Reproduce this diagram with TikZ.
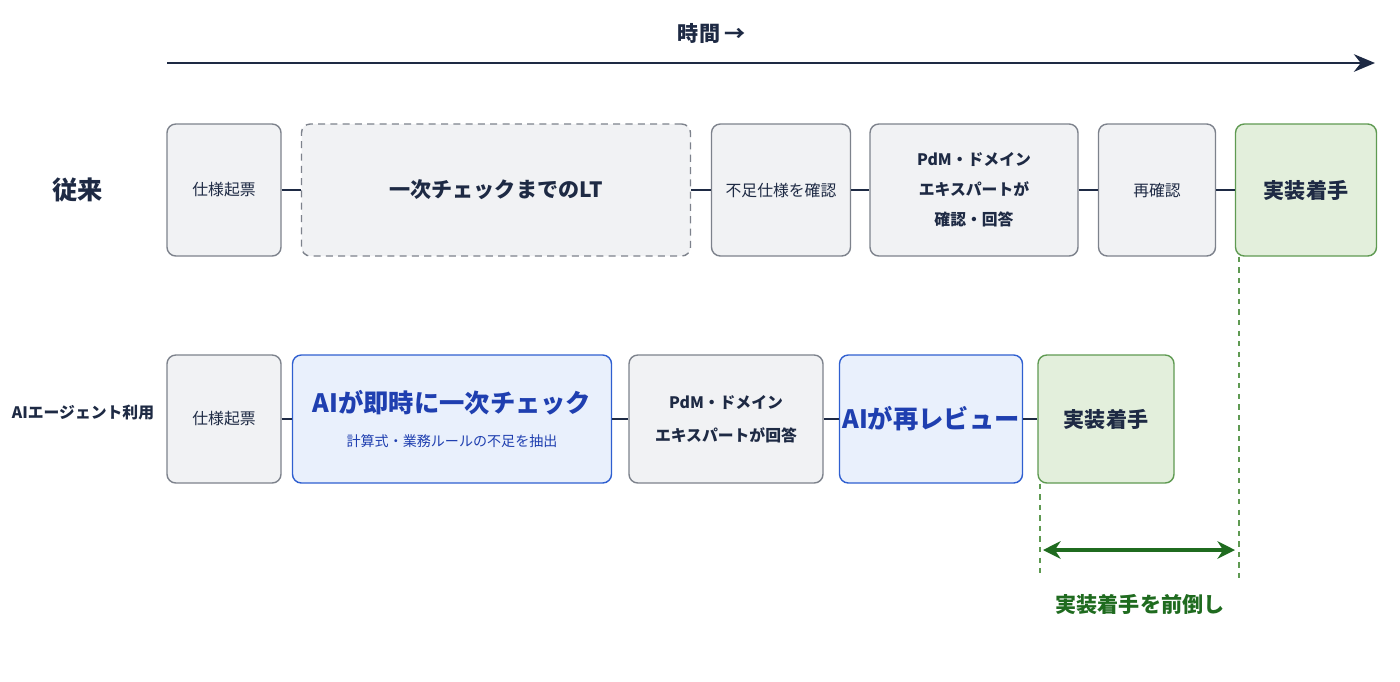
\documentclass[tikz,border=0pt]{standalone}
\usepackage{fontspec}
\setmainfont{Noto Sans CJK JP}
\usetikzlibrary{arrows.meta}
\definecolor{navy}{HTML}{1E2A44}
\definecolor{boxgray}{HTML}{F1F2F4}
\definecolor{edgegray}{HTML}{7D828C}
\definecolor{blueedge}{HTML}{2F5FD0}
\definecolor{bluefill}{HTML}{E9F0FC}
\definecolor{bluetext}{HTML}{1F3FB0}
\definecolor{greenedge}{HTML}{5F9A52}
\definecolor{greenfill}{HTML}{E3EFDC}
\definecolor{darkgreen}{HTML}{1F6B1F}
\begin{document}
\begin{tikzpicture}[x=0.02cm,y=-0.02cm,
    box/.style={draw=edgegray,fill=boxgray,rounded corners=5pt,line width=0.8pt,
                align=center,font=\small,text=navy,inner sep=0pt},
    sz/.style 2 args={minimum width=#1*0.02cm,minimum height=#2*0.02cm},
    dbox/.style={box,dashed,dash pattern=on 4pt off 3pt},
    bbox/.style={box,draw=blueedge,fill=bluefill,text=bluetext},
    gbox/.style={box,draw=greenedge,fill=greenfill},
    link/.style={navy,line width=1.2pt}]
  \useasboundingbox (0,0) rectangle (1400,681);

  % time axis
  \node[font=\bfseries\large,text=navy] (time) at (712,33) {時間 →};
  \coordinate (t0) at (167,63);
  \coordinate (t1) at (1375,63);
  \draw[navy,line width=1.5pt,-{Stealth[length=12pt,width=10pt]}] (t0) -- (t1);

  % row labels
  \node[font=\bfseries\Large,text=navy] (lab1) at (78,190) {従来};
  \node[font=\small\bfseries,text=navy] (lab2) at (83,413) {AIエージェント利用};

  % conventional flow
  \node[box,sz={114}{132}] (a1) at (224,190) {仕様起票};
  \node[dbox,sz={389}{132},font=\large\bfseries] (a2) at (496,190) {一次チェックまでのLT};
  \node[box,sz={139}{132}] (a3) at (781,190) {不足仕様を確認};
  \node[box,sz={208}{132},font=\small\bfseries] (a4) at (974,190)
    {PdM・ドメイン\\[6pt]エキスパートが\\[6pt]確認・回答};
  \node[box,sz={117}{132}] (a5) at (1157,190) {再確認};
  \node[gbox,sz={141}{132},font=\large\bfseries] (a6) at (1306,190) {実装着手};
  \foreach \p/\q in {a1/a2,a2/a3,a3/a4,a4/a5,a5/a6}
    \draw[link] (\p) -- (\q);

  % agent flow
  \node[box,sz={114}{128}] (b1) at (224,419) {仕様起票};
  \node[bbox,sz={319}{128}] (b2) at (452,419)
    {{\Large\bfseries AIが即時に一次チェック}\\[8pt]{\footnotesize 計算式・業務ルールの不足を抽出}};
  \node[box,sz={194}{128},font=\small\bfseries] (b3) at (726,419)
    {PdM・ドメイン\\[8pt]エキスパートが回答};
  \node[bbox,sz={183}{128},font=\Large\bfseries] (b4) at (931,419) {AIが再レビュー};
  \node[gbox,sz={136}{128},font=\large\bfseries] (b5) at (1106,419) {実装着手};
  \foreach \p/\q in {b1/b2,b2/b3,b3/b4,b4/b5}
    \draw[link] (\p) -- (\q);

  % lead gain
  \coordinate (g1) at (1239,578);
  \coordinate (g2) at (1040,578);
  \draw[greenedge,dashed,line width=0.8pt] (a6.south -| g1) -- (g1);
  \draw[greenedge,dashed,line width=0.8pt] (b5.south -| g2) -- (g2);
  \coordinate (h1) at (1043,550);
  \coordinate (h2) at (1235,550);
  \draw[darkgreen,line width=2pt,{Stealth[length=10pt,width=10pt]}-{Stealth[length=10pt,width=10pt]}] (h1) -- (h2);
  \node[font=\large\bfseries,text=darkgreen] (gain) at (1140,604) {実装着手を前倒し};
\end{tikzpicture}
\end{document}
